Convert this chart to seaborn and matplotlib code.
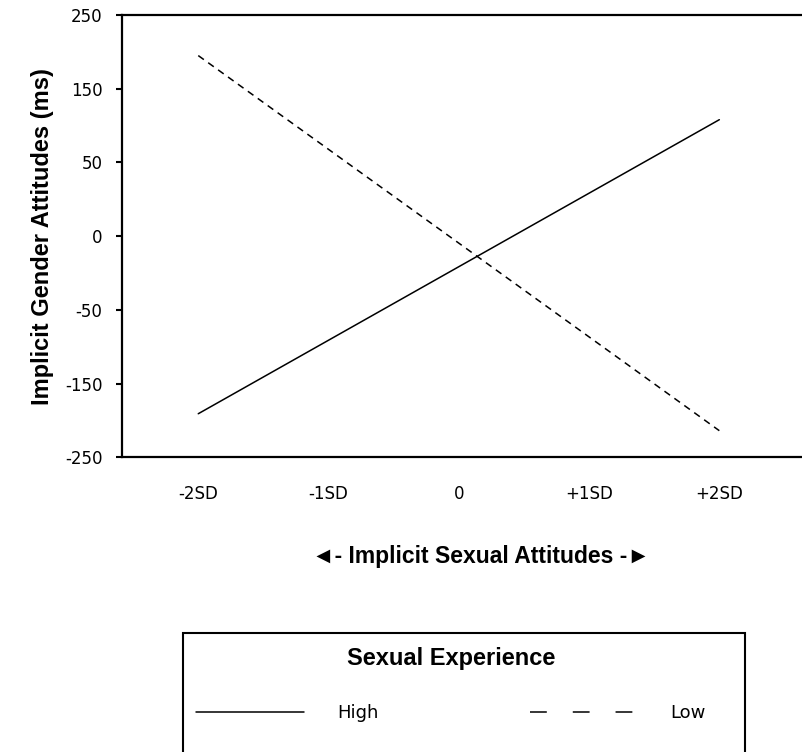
import matplotlib
matplotlib.use("Agg")
import matplotlib.pyplot as plt
from matplotlib.lines import Line2D
from matplotlib.patches import Rectangle
import seaborn as sns
import numpy as np
import pandas as pd

# values (ms), at -2SD and +2SD
x_sd = [-2, 2]
high_ms = [-191, 108]
low_ms = [195, -214]

x_ticks = [-2, -1, 0, 1, 2]
x_labels = ["-2SD", "-1SD", "0", "+1SD", "+2SD"]
# the original axis has evenly spaced ticks with uneven labels
y_tick_ms = [-250, -150, -50, 0, 50, 150, 250]
y_tick_pos = [-3, -2, -1, 0, 1, 2, 3]

sns.set_theme(style="white", rc={"text.color": "black", "axes.labelcolor": "black",
                                 "xtick.color": "black", "ytick.color": "black"})
plt.rcParams["font.family"] = ["Liberation Sans", "DejaVu Sans"]

df = pd.DataFrame({
    "x": x_sd * 2,
    "ms": high_ms + low_ms,
    "experience": ["High"] * 2 + ["Low"] * 2,
})
df["pos"] = np.interp(df["ms"], y_tick_ms, y_tick_pos)

fig = plt.figure(figsize=(8.03, 7.52), dpi=100)
ax = fig.add_axes([0.152, 0.392, 0.846, 0.588])

sns.lineplot(
    df, x="x", y="pos", hue="experience", style="experience",
    palette={"High": "black", "Low": "black"},
    dashes={"High": "", "Low": (4.5, 3.5)}, linewidth=1.1, legend=False, ax=ax,
)

ax.set_xlim(-2.585, 2.63)
ax.set_ylim(-3, 3)
ax.set_xticks(x_ticks)
ax.set_xticklabels(x_labels, fontsize=12, family="DejaVu Sans")
ax.set_yticks(y_tick_pos)
ax.set_yticklabels([str(v) for v in y_tick_ms], fontsize=12, family="DejaVu Sans")
ax.tick_params(axis="x", length=0, pad=20)
ax.tick_params(axis="y", length=4, width=1.5, color="black", pad=10, left=True)

for side in ["left", "top", "bottom"]:
    ax.spines[side].set_color("black")
    ax.spines[side].set_linewidth(1.6)
ax.spines["right"].set_visible(False)

ax.set_xlabel("◄- Implicit Sexual Attitudes -►", fontsize=16.5,
              fontweight="bold", labelpad=30)
ax.xaxis.label.set_x(0.528)
ax.set_ylabel("Implicit Gender Attitudes (ms)", fontsize=17,
              fontweight="bold", labelpad=8)

# legend box, bottom edge runs off the figure
fig.patches.append(Rectangle((0.228, -0.05), 0.700, 0.208, transform=fig.transFigure,
                             fill=False, edgecolor="black", linewidth=1.5))
handles = [
    Line2D([], [], color="black", linewidth=1.1),
    Line2D([], [], color="black", linewidth=1.1, dashes=(11, 17)),
]
leg = fig.legend(handles, ["High", "Low"], ncol=2, loc="upper left",
                 bbox_to_anchor=(0.244, 0.140), frameon=False,
                 prop={"family": "DejaVu Sans", "size": 13},
                 handlelength=6.0, handletextpad=1.8, columnspacing=8.4,
                 title="Sexual Experience", labelspacing=1.9,
                 borderpad=0, borderaxespad=0)
leg.get_title().set_fontsize(17)
leg.get_title().set_fontweight("bold")

fig.savefig("out.png", dpi=100, facecolor="white")
